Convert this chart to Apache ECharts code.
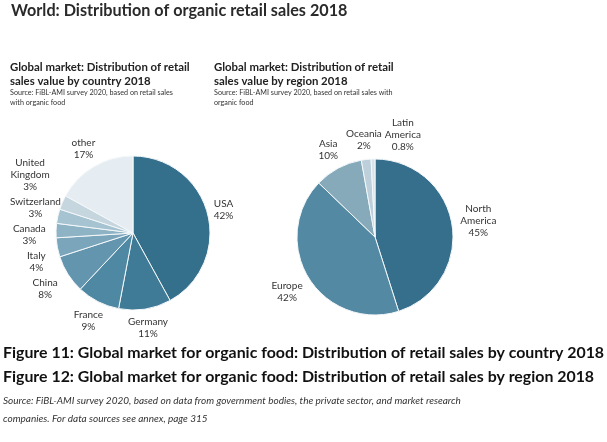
<!DOCTYPE html>
<html><head><meta charset="utf-8">
<script src="https://cdn.jsdelivr.net/npm/echarts@6/dist/echarts.min.js"></script>
<style>html,body{margin:0;padding:0;background:#fff}#c{width:607px;height:442px}</style>
</head><body><div id="c"></div>
<script>
const countryNames = ["USA","Germany","France","China","Italy","Canada","Switzerland","United\nKingdom","other"];
const countryValues = [42,11,9,8,4,3,3,3,17];
const countryColors = ["#346f8c","#3f7b97","#4f88a2","#6396ae","#7aa5ba","#8eb3c5","#a6c3d1","#c5d6df","#e6edf2"];
const regionNames = ["North\nAmerica","Europe","Asia","Oceania","Latin\nAmerica"];
const regionValues = [45,42,10,2,0.8];
const regionColors = ["#356f8c","#5489a4","#87aabb","#bccfda","#d9e4ea"];
const FONT = "Lato, 'Open Sans', sans-serif";

const PIES = [
  {center:[133,233], r:77, gapSide:10, gap:4},
  {center:[375,237], r:78, gapSide:6, gap:6}
];

function pieData(names, vals, colors){
  return names.map((n,i)=>({name:n, value:vals[i], itemStyle:{color:colors[i]}}));
}
function fmt(p){ return p.name + "\n" + p.value + "%"; }

// place each label radially just outside its slice; neighbouring labels that
// overlap or nearly touch are stacked into a tidy column
const placed = {0:[],1:[]};
const SPACING = 3, SNAP = 12, MARGIN = 10;
function makeLayout(si){
  return function(p){
    const pie = PIES[si];
    const pt = p.labelLinePoints ? p.labelLinePoints[0] : null;
    if(!pt) return {};
    let dx = pt[0]-pie.center[0], dy = pt[1]-pie.center[1];
    const len = Math.hypot(dx,dy) || 1; dx/=len; dy/=len;
    const w = p.labelRect.width, h = p.labelRect.height;
    const gap = (dx < 0 && Math.abs(dx) > Math.abs(dy)) ? pie.gapSide : pie.gap;
    const off = pie.r + gap + Math.abs(dx)*w/2 + Math.abs(dy)*h/2;
    let x = pie.center[0] + dx*off, y = pie.center[1] + dy*off;
    if(p.dataIndex === 0) placed[si] = [];
    const prev = placed[si][placed[si].length-1];
    if(prev){
      const ox = Math.abs(x-prev.x) < (w+prev.w)/2 + 1;
      if(Math.abs(dy) > Math.abs(dx)){
        const oy = Math.abs(y-prev.y) < (h+prev.h)/2 + 1;
        if(ox && oy) x = prev.x + (prev.w+w)/2 + 3;
      } else if(ox && dx < 0){
        const stackY = prev.y - (prev.h+h)/2 - SPACING;
        if(y > stackY - SNAP) y = stackY;
      } else if(ox && dx > 0){
        const stackY = prev.y + (prev.h+h)/2 + SPACING;
        if(y < stackY + SNAP) y = stackY;
      }
    }
    x = Math.max(x, w/2 + MARGIN);
    placed[si].push({x:x,y:y,w:w,h:h});
    return {x:x, y:y, align:'center', verticalAlign:'middle'};
  };
}

const labelStyle = {show:true, position:'outside', formatter:fmt, fontFamily:FONT, fontSize:10,
  color:'#333', lineHeight:12, align:'center', overflow:'none'};

const chart = echarts.init(document.getElementById('c'), null, {renderer:'canvas'});
chart.setOption({
  backgroundColor:'#fff',
  animation:false,
  title:[
    {text:"World: Distribution of organic retail sales 2018", left:11, top:3, padding:0,
     textStyle:{fontFamily:FONT, fontSize:16.2, fontWeight:'bold', color:'#2a2a2a'}},
    {text:"Global market: Distribution of retail\nsales value by country 2018", left:10, top:60, padding:0,
     textStyle:{fontFamily:FONT, fontSize:11.4, fontWeight:'bold', color:'#222', lineHeight:14}},
    {text:"Source: FiBL-AMI survey 2020, based on retail sales\nwith organic food", left:10, top:88, padding:0,
     textStyle:{fontFamily:FONT, fontSize:7.2, fontWeight:'normal', color:'#333', lineHeight:10}},
    {text:"Global market: Distribution of retail\nsales value by region 2018", left:214, top:60, padding:0,
     textStyle:{fontFamily:FONT, fontSize:11.4, fontWeight:'bold', color:'#222', lineHeight:14}},
    {text:"Source: FiBL-AMI survey 2020, based on retail sales with\norganic food", left:214, top:88, padding:0,
     textStyle:{fontFamily:FONT, fontSize:7.2, fontWeight:'normal', color:'#333', lineHeight:10}},
    {text:"Figure 11: Global market for organic food: Distribution of retail sales by country 2018", left:3, top:345, padding:0,
     textStyle:{fontFamily:FONT, fontSize:15.9, fontWeight:'bold', color:'#111'}},
    {text:"Figure 12: Global market for organic food: Distribution of retail sales by region 2018", left:3, top:369, padding:0,
     textStyle:{fontFamily:FONT, fontSize:15.9, fontWeight:'bold', color:'#111'}},
    {text:"Source: FiBL-AMI survey 2020, based on data from government bodies, the private sector, and market research\ncompanies. For data sources see annex, page 315", left:3, top:392, padding:0,
     textStyle:{fontFamily:FONT, fontSize:10, fontWeight:'normal', fontStyle:'italic', color:'#333', lineHeight:18}}
  ],
  series:[
    {type:'pie', center:PIES[0].center, radius:[0,PIES[0].r], startAngle:90, clockwise:true,
     data:pieData(countryNames,countryValues,countryColors),
     itemStyle:{borderColor:'#f4f8fa', borderWidth:1},
     label:labelStyle,
     labelLine:{show:false, length:4, length2:0},
     labelLayout:makeLayout(0),
     avoidLabelOverlap:false, emphasis:{disabled:true}},
    {type:'pie', center:PIES[1].center, radius:[0,PIES[1].r], startAngle:90, clockwise:true,
     data:pieData(regionNames,regionValues,regionColors),
     itemStyle:{borderColor:'#f4f8fa', borderWidth:1},
     label:labelStyle,
     labelLine:{show:false, length:4, length2:0},
     labelLayout:makeLayout(1),
     avoidLabelOverlap:false, emphasis:{disabled:true}}
  ]
});
</script></body></html>
